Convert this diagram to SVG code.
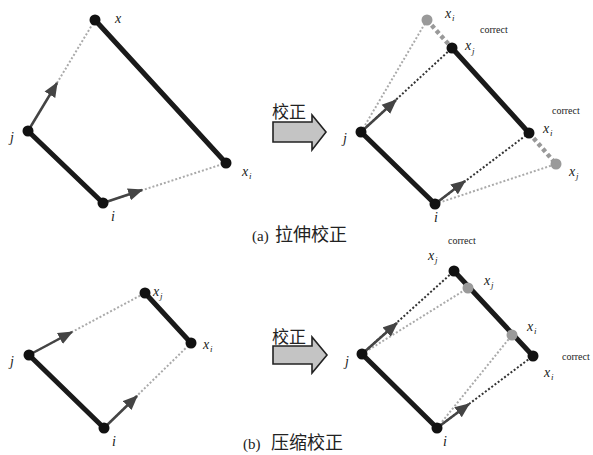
<svg xmlns="http://www.w3.org/2000/svg" width="593" height="455" viewBox="0 0 593 455">
<style>
.thick{stroke:#1a1a1a;stroke-width:5;stroke-linecap:round;fill:none}
.gdot{stroke:#aaaaaa;stroke-width:2;stroke-dasharray:2 2;fill:none}
.bdot{stroke:#333333;stroke-width:2;stroke-dasharray:2 2;fill:none}
.gext{stroke:#999999;stroke-width:4.5;stroke-dasharray:4 3;fill:none}
.arr{stroke:#444444;stroke-width:2.5;fill:none;marker-end:url(#ah)}
.bn{fill:#111111}
.gn{fill:#9a9a9a}
.lb{font-family:"Liberation Serif",serif;font-style:italic;font-size:14px;fill:#222}
.sb{font-family:"Liberation Serif",serif;font-style:italic;font-size:9px;fill:#222}
.cr{font-family:"Liberation Serif",serif;font-size:10px;fill:#222}
.cj{font-family:"Liberation Sans","Noto Sans CJK SC",sans-serif;fill:#222}
.big{fill:#c4c4c4;stroke:#222;stroke-width:1.6;stroke-linejoin:miter}
</style>
<defs>
<marker id="ah" viewBox="0 0 12 10" markerUnits="userSpaceOnUse" markerWidth="15" markerHeight="13" refX="11" refY="5" orient="auto">
<path d="M0,0 L12,5 L0,10 z" fill="#444444"/>
</marker>
</defs>
<rect width="593" height="455" fill="#ffffff"/>

<g id="connectors">
<!-- (a) left -->
<line class="gdot" x1="28" y1="131" x2="95" y2="20"/>
<line class="gdot" x1="103" y1="203" x2="226" y2="163"/>
<line class="thick" x1="95" y1="20" x2="226" y2="163"/>
<line class="thick" x1="28" y1="131" x2="103" y2="203"/>
<line class="arr" x1="28" y1="131" x2="57" y2="83"/>
<line class="arr" x1="103" y1="203" x2="142" y2="190"/>
<!-- (a) right -->
<line class="gdot" x1="361" y1="132" x2="427" y2="20"/>
<line class="gdot" x1="435" y1="204" x2="556" y2="164"/>
<line class="bdot" x1="361" y1="132" x2="452" y2="48"/>
<line class="bdot" x1="435" y1="204" x2="529" y2="133"/>
<line class="gext" x1="427" y1="20" x2="452" y2="48"/>
<line class="gext" x1="529" y1="133" x2="556" y2="164"/>
<line class="thick" x1="452" y1="48" x2="529" y2="133"/>
<line class="thick" x1="361" y1="132" x2="435" y2="204"/>
<line class="arr" x1="361" y1="132" x2="396" y2="100"/>
<line class="arr" x1="435" y1="204" x2="465" y2="181"/>
<!-- (b) left -->
<line class="gdot" x1="29" y1="355" x2="145" y2="293"/>
<line class="gdot" x1="104" y1="428" x2="191" y2="343"/>
<line class="thick" x1="145" y1="293" x2="191" y2="343"/>
<line class="thick" x1="29" y1="355" x2="104" y2="428"/>
<line class="arr" x1="29" y1="355" x2="72" y2="332"/>
<line class="arr" x1="104" y1="428" x2="137" y2="396"/>
<!-- (b) right -->
<line class="gdot" x1="362" y1="354" x2="468" y2="288"/>
<line class="gdot" x1="437" y1="428" x2="512" y2="335"/>
<line class="bdot" x1="362" y1="354" x2="454" y2="271"/>
<line class="bdot" x1="437" y1="428" x2="533" y2="356"/>
<line class="thick" x1="454" y1="271" x2="533" y2="356"/>
<line class="thick" x1="362" y1="354" x2="437" y2="428"/>
<line class="arr" x1="362" y1="354" x2="397" y2="323"/>
<line class="arr" x1="437" y1="428" x2="469" y2="404"/>
</g>

<!-- (a) left nodes -->
<g id="a-left-xj"><circle class="bn" cx="95" cy="20" r="5.5"/><text class="lb" x="115" y="23">x</text></g>
<g id="a-left-j"><circle class="bn" cx="28" cy="131" r="5.5"/><text class="lb" x="10" y="142">j</text></g>
<g id="a-left-i"><circle class="bn" cx="103" cy="203" r="5.5"/><text class="lb" x="111" y="221">i</text></g>
<g id="a-left-xi"><circle class="bn" cx="226" cy="163" r="5.5"/><text class="lb" x="242" y="176">x</text><text class="sb" x="249" y="179">i</text></g>

<!-- (a) right nodes -->
<g id="a-right-xi-gray"><circle class="gn" cx="427" cy="20" r="5.5"/><text class="lb" x="445" y="18">x</text><text class="sb" x="452" y="21">i</text></g>
<g id="a-right-xj-correct"><circle class="bn" cx="452" cy="48" r="5.5"/><text class="lb" x="465" y="50">x</text><text class="sb" x="472" y="54">j</text><text class="cr" x="480" y="33">correct</text></g>
<g id="a-right-j"><circle class="bn" cx="361" cy="132" r="5.5"/><text class="lb" x="343" y="143">j</text></g>
<g id="a-right-xi-correct"><circle class="bn" cx="529" cy="133" r="5.5"/><text class="lb" x="543" y="133">x</text><text class="sb" x="550" y="136">i</text><text class="cr" x="552" y="114">correct</text></g>
<g id="a-right-xj-gray"><circle class="gn" cx="556" cy="164" r="5.5"/><text class="lb" x="569" y="176">x</text><text class="sb" x="576" y="179">j</text></g>
<g id="a-right-i"><circle class="bn" cx="435" cy="204" r="5.5"/><text class="lb" x="434" y="222">i</text></g>

<!-- (b) left nodes -->
<g id="b-left-xj"><circle class="bn" cx="145" cy="293" r="5.5"/><text class="lb" x="153" y="296">x</text><text class="sb" x="160" y="299">j</text></g>
<g id="b-left-xi"><circle class="bn" cx="191" cy="343" r="5.5"/><text class="lb" x="203" y="349">x</text><text class="sb" x="210" y="352">i</text></g>
<g id="b-left-j"><circle class="bn" cx="29" cy="355" r="5.5"/><text class="lb" x="10" y="366">j</text></g>
<g id="b-left-i"><circle class="bn" cx="104" cy="428" r="5.5"/><text class="lb" x="112" y="446">i</text></g>

<!-- (b) right nodes -->
<g id="b-right-xj-correct"><circle class="bn" cx="454" cy="271" r="5.5"/><text class="lb" x="428" y="260">x</text><text class="sb" x="435" y="263">j</text><text class="cr" x="448" y="244">correct</text></g>
<g id="b-right-xj-gray"><circle class="gn" cx="468" cy="288" r="5.5"/><text class="lb" x="484" y="285">x</text><text class="sb" x="491" y="288">j</text></g>
<g id="b-right-xi-gray"><circle class="gn" cx="512" cy="335" r="5.5"/><text class="lb" x="527" y="331">x</text><text class="sb" x="534" y="334">i</text></g>
<g id="b-right-xi-correct"><circle class="bn" cx="533" cy="356" r="5.5"/><text class="cr" x="562" y="360">correct</text><text class="lb" x="544" y="377">x</text><text class="sb" x="551" y="380">i</text></g>
<g id="b-right-j"><circle class="bn" cx="362" cy="354" r="5.5"/><text class="lb" x="345" y="366">j</text></g>
<g id="b-right-i"><circle class="bn" cx="437" cy="428" r="5.5"/><text class="lb" x="443" y="446">i</text></g>

<!-- big arrows -->
<g id="arrow-a">
<polygon class="big" points="273,122 312,122 312,115 326,132 312,150 312,142 273,142"/>
<text class="cj" x="272" y="118" font-size="17">校正</text>
</g>
<g id="arrow-b">
<polygon class="big" points="273,346 312,346 312,337 327,355 312,373 312,364 273,364"/>
<text class="cj" x="272" y="343" font-size="17">校正</text>
</g>

<!-- captions -->
<g id="caption-a">
<text x="252" y="241" font-family="Liberation Serif, serif" font-size="15" fill="#222">(a)</text>
<text class="cj" x="275" y="241" font-size="18">拉伸校正</text>
</g>
<g id="caption-b">
<text x="243" y="449" font-family="Liberation Serif, serif" font-size="15" fill="#222">(b)</text>
<text class="cj" x="271" y="449" font-size="18">压缩校正</text>
</g>
</svg>
